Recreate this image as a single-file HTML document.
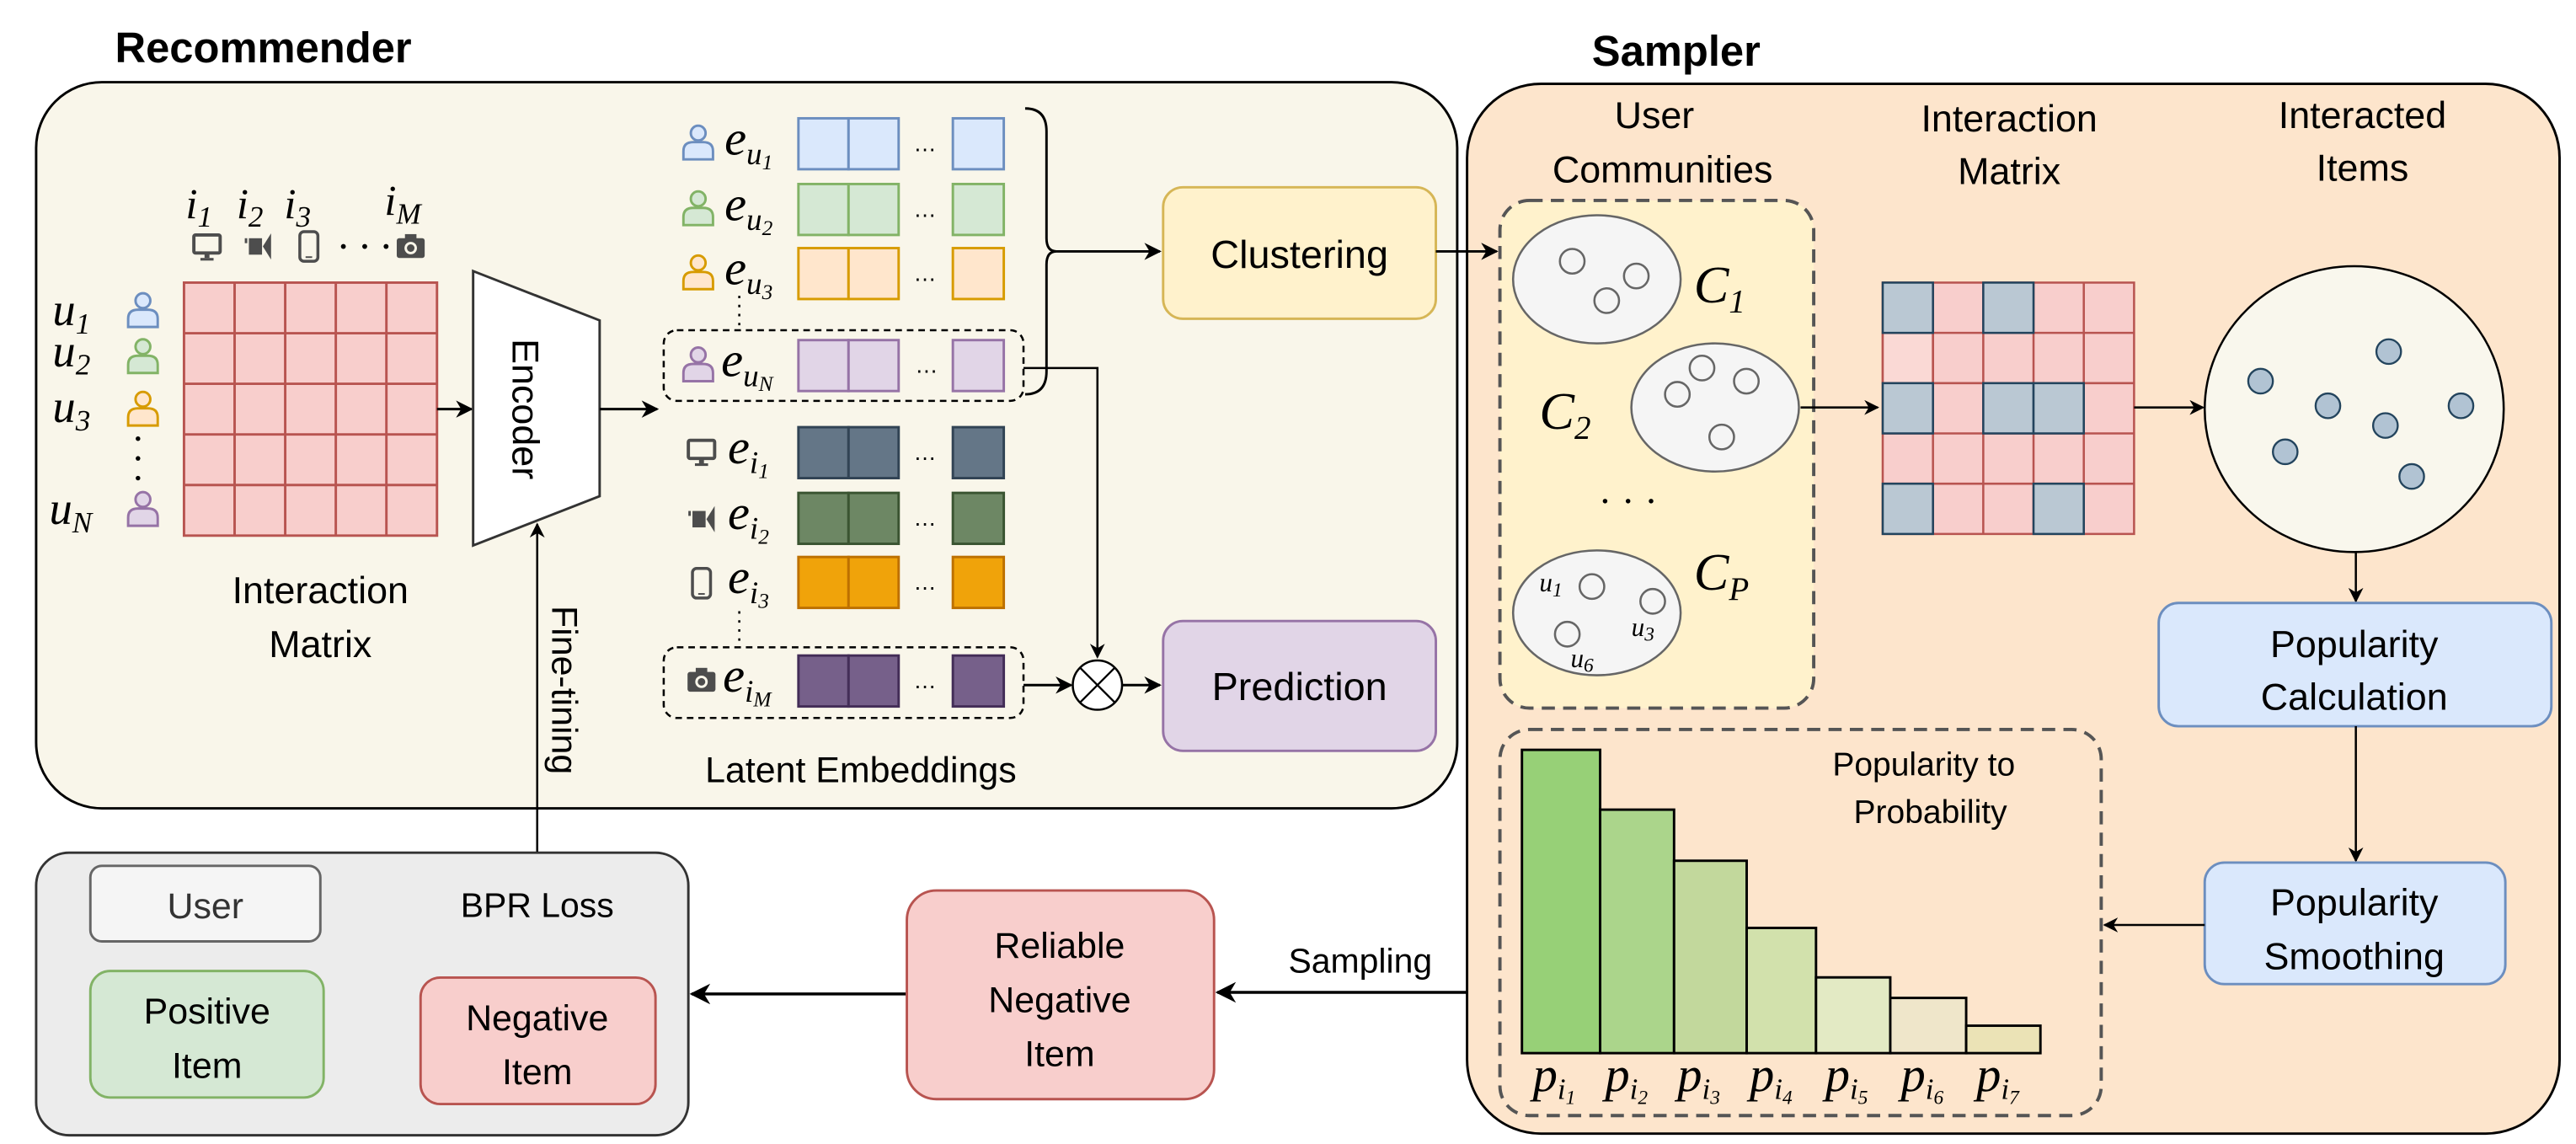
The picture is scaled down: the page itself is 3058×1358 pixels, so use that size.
<!DOCTYPE html>
<html><head><meta charset="utf-8"><style>
html,body{margin:0;padding:0;background:#fff;}
svg{display:block;}
text{font-family:"Liberation Sans",sans-serif;}
.m text, text.m{font-family:"Liberation Serif",serif;font-style:italic;}
</style></head><body>
<svg width="3058" height="1358" viewBox="0 0 1568 696.3" xmlns="http://www.w3.org/2000/svg">
<defs>
<marker id="ar" viewBox="0 0 10 10" refX="9" refY="5" markerWidth="7" markerHeight="7" orient="auto-start-reverse"><path d="M0,0 L10,5 L0,10 L3,5 z" fill="#000"/></marker>
<g id="person"><circle cx="0" cy="-6" r="4.5"/><path d="M-9,10 L-9,5 Q-9,-0.5 -3,-0.5 L3,-0.5 Q9,-0.5 9,5 L9,10 Z"/></g>
<g id="mon"><rect x="-8" y="-7" width="16" height="11" rx="1" fill="none" stroke="#4d4d4d" stroke-width="2"/><rect x="-1.5" y="4" width="3" height="3" fill="#4d4d4d"/><rect x="-4" y="7" width="8" height="1.6" fill="#4d4d4d"/></g>
<g id="vid"><rect x="-8" y="-5" width="1.5" height="3" fill="#4d4d4d"/><rect x="-5.5" y="-5" width="8" height="10" fill="#4d4d4d"/><path d="M8,-8 L8,8 L3,0 Z" fill="#4d4d4d"/></g>
<g id="phone"><rect x="-5.5" y="-9" width="11" height="18" rx="2.5" fill="none" stroke="#4d4d4d" stroke-width="1.8"/><rect x="-2" y="6" width="4" height="1" fill="#4d4d4d"/></g>
<g id="cam"><rect x="-8.5" y="-5" width="17" height="12" rx="1.5" fill="#4d4d4d"/><rect x="-3.5" y="-7.5" width="7" height="3" fill="#4d4d4d"/><circle cx="0" cy="1" r="3.8" fill="#f9f6ea"/><circle cx="0" cy="1" r="2.3" fill="#4d4d4d"/></g>
</defs>

<!-- Recommender -->
<text x="70" y="38" font-size="26" font-weight="bold">Recommender</text>
<rect x="22" y="50" width="865" height="442" rx="40" fill="#f9f6ea" stroke="#000" stroke-width="1.5"/>

<g class="m" font-size="26">
<text x="113" y="133">i<tspan font-size="18" dy="5">1</tspan></text>
<text x="144" y="133">i<tspan font-size="18" dy="5">2</tspan></text>
<text x="173" y="133">i<tspan font-size="18" dy="5">3</tspan></text>
<text x="234" y="131">i<tspan font-size="18" dy="5">M</tspan></text>
</g>
<use href="#mon" x="126" y="150"/><use href="#vid" x="157" y="150"/><use href="#phone" x="188" y="150"/>
<circle cx="209" cy="150" r="1.5"/><circle cx="222" cy="150" r="1.5"/><circle cx="235" cy="150" r="1.5"/>
<use href="#cam" x="250" y="150"/>

<g class="m" font-size="28">
<text x="32" y="198">u<tspan font-size="18" dy="5">1</tspan></text>
<text x="32" y="223">u<tspan font-size="18" dy="5">2</tspan></text>
<text x="32" y="257">u<tspan font-size="18" dy="5">3</tspan></text>
<text x="30" y="319">u<tspan font-size="18" dy="5">N</tspan></text>
</g>
<use href="#person" x="87" y="189" fill="#dae8fc" stroke="#6c8ebf" stroke-width="1.5"/>
<use href="#person" x="87" y="217" fill="#d5e8d4" stroke="#82b366" stroke-width="1.5"/>
<use href="#person" x="87" y="249" fill="#ffe6cc" stroke="#d79b00" stroke-width="1.5"/>
<use href="#person" x="87" y="310" fill="#e1d5e7" stroke="#9673a6" stroke-width="1.5"/>
<circle cx="84" cy="267" r="1.4"/><circle cx="84" cy="279" r="1.4"/><circle cx="84" cy="291" r="1.4"/>

<rect x="112" y="172" width="154" height="154" fill="#f8cecc" stroke="#b85450" stroke-width="1.5"/>
<g stroke="#b85450" stroke-width="1.5">
<line x1="142.8" y1="172" x2="142.8" y2="326"/><line x1="173.6" y1="172" x2="173.6" y2="326"/><line x1="204.4" y1="172" x2="204.4" y2="326"/><line x1="235.2" y1="172" x2="235.2" y2="326"/>
<line x1="112" y1="202.8" x2="266" y2="202.8"/><line x1="112" y1="233.6" x2="266" y2="233.6"/><line x1="112" y1="264.4" x2="266" y2="264.4"/><line x1="112" y1="295.2" x2="266" y2="295.2"/>
</g>
<text x="195" y="367" font-size="23" text-anchor="middle">Interaction</text>
<text x="195" y="400" font-size="23" text-anchor="middle">Matrix</text>
<line x1="266" y1="249" x2="287" y2="249" stroke="#000" stroke-width="1.5" marker-end="url(#ar)"/>

<path d="M288,165 L365,195 L365,302 L288,332 Z" fill="#fff" stroke="#333" stroke-width="1.5"/>
<text transform="translate(312,249) rotate(90)" font-size="23" text-anchor="middle">Encoder</text>
<line x1="365" y1="249" x2="400" y2="249" stroke="#000" stroke-width="1.5" marker-end="url(#ar)"/>

<!-- embeddings -->
<g stroke-width="1.5">
<g fill="#dae8fc" stroke="#6c8ebf"><rect x="486" y="72" width="30.5" height="31"/><rect x="516.5" y="72" width="30.5" height="31"/><rect x="580" y="72" width="31" height="31"/></g>
<g fill="#d5e8d4" stroke="#82b366"><rect x="486" y="112" width="30.5" height="31"/><rect x="516.5" y="112" width="30.5" height="31"/><rect x="580" y="112" width="31" height="31"/></g>
<g fill="#ffe6cc" stroke="#d79b00"><rect x="486" y="151" width="30.5" height="31"/><rect x="516.5" y="151" width="30.5" height="31"/><rect x="580" y="151" width="31" height="31"/></g>
<g fill="#e1d5e7" stroke="#9673a6"><rect x="486" y="207" width="30.5" height="31"/><rect x="516.5" y="207" width="30.5" height="31"/><rect x="580" y="207" width="31" height="31"/></g>
<g fill="#647687" stroke="#314354"><rect x="486" y="260" width="30.5" height="31"/><rect x="516.5" y="260" width="30.5" height="31"/><rect x="580" y="260" width="31" height="31"/></g>
<g fill="#6d8764" stroke="#3a5431"><rect x="486" y="300" width="30.5" height="31"/><rect x="516.5" y="300" width="30.5" height="31"/><rect x="580" y="300" width="31" height="31"/></g>
<g fill="#f0a30a" stroke="#bd7000"><rect x="486" y="339" width="30.5" height="31"/><rect x="516.5" y="339" width="30.5" height="31"/><rect x="580" y="339" width="31" height="31"/></g>
<g fill="#76608a" stroke="#432d57"><rect x="486" y="399" width="30.5" height="31"/><rect x="516.5" y="399" width="30.5" height="31"/><rect x="580" y="399" width="31" height="31"/></g>
</g>
<g font-size="14" text-anchor="middle"><text x="563" y="92">…</text><text x="563" y="132">…</text><text x="563" y="171">…</text><text x="564" y="227">…</text><text x="563" y="280">…</text><text x="563" y="320">…</text><text x="563" y="359">…</text><text x="563" y="419">…</text></g>
<use href="#person" x="425" y="87" fill="#dae8fc" stroke="#6c8ebf" stroke-width="1.5"/>
<use href="#person" x="425" y="127" fill="#d5e8d4" stroke="#82b366" stroke-width="1.5"/>
<use href="#person" x="425" y="166" fill="#ffe6cc" stroke="#d79b00" stroke-width="1.5"/>
<use href="#person" x="425" y="222" fill="#e1d5e7" stroke="#9673a6" stroke-width="1.5"/>
<use href="#mon" x="427" y="275"/><use href="#vid" x="427" y="316"/><use href="#phone" x="427" y="355"/><use href="#cam" x="427" y="414"/>
<g class="m" font-size="30">
<text x="441" y="94">e<tspan font-size="19" dy="6">u</tspan><tspan font-size="13" dy="3">1</tspan></text>
<text x="441" y="134">e<tspan font-size="19" dy="6">u</tspan><tspan font-size="13" dy="3">2</tspan></text>
<text x="441" y="173">e<tspan font-size="19" dy="6">u</tspan><tspan font-size="13" dy="3">3</tspan></text>
<text x="439" y="229">e<tspan font-size="19" dy="6">u</tspan><tspan font-size="13" dy="3">N</tspan></text>
<text x="443" y="282">e<tspan font-size="19" dy="6">i</tspan><tspan font-size="13" dy="3">1</tspan></text>
<text x="443" y="322">e<tspan font-size="19" dy="6">i</tspan><tspan font-size="13" dy="3">2</tspan></text>
<text x="443" y="361">e<tspan font-size="19" dy="6">i</tspan><tspan font-size="13" dy="3">3</tspan></text>
<text x="440" y="421">e<tspan font-size="19" dy="6">i</tspan><tspan font-size="13" dy="3">M</tspan></text>
</g>
<line x1="450" y1="180" x2="450" y2="200" stroke="#000" stroke-width="1.3" stroke-dasharray="1.5,4"/>
<line x1="450" y1="372" x2="450" y2="392" stroke="#000" stroke-width="1.3" stroke-dasharray="1.5,4"/>
<rect x="404" y="201" width="219" height="43" rx="8" fill="none" stroke="#000" stroke-width="1.3" stroke-dasharray="4,3"/>
<rect x="404" y="394" width="219" height="43" rx="8" fill="none" stroke="#000" stroke-width="1.3" stroke-dasharray="4,3"/>
<path d="M624,66 Q637,66 637,80 L637,145 Q637,153 643,153 Q637,153 637,161 L637,226 Q637,240 624,240" fill="none" stroke="#000" stroke-width="1.5"/>
<line x1="643" y1="153" x2="706" y2="153" stroke="#000" stroke-width="1.5" marker-end="url(#ar)"/>
<rect x="708" y="114" width="166" height="80" rx="12" fill="#fff2cc" stroke="#d6b656" stroke-width="1.5"/>
<text x="791" y="163" font-size="24" text-anchor="middle">Clustering</text>
<path d="M623,224 L668,224 L668,400" fill="none" stroke="#000" stroke-width="1.3" marker-end="url(#ar)"/>
<line x1="623" y1="417" x2="652" y2="417" stroke="#000" stroke-width="1.5" marker-end="url(#ar)"/>
<circle cx="668" cy="417" r="15" fill="#fff" stroke="#000" stroke-width="1.3"/>
<path d="M657.4,406.4 L678.6,427.6 M678.6,406.4 L657.4,427.6" stroke="#000" stroke-width="1.2"/>
<line x1="683" y1="417" x2="706" y2="417" stroke="#000" stroke-width="1.5" marker-end="url(#ar)"/>
<rect x="708" y="378" width="166" height="79" rx="12" fill="#e1d5e7" stroke="#9673a6" stroke-width="1.5"/>
<text x="791" y="426" font-size="24" text-anchor="middle">Prediction</text>
<text x="524" y="476" font-size="22" text-anchor="middle">Latent Embeddings</text>
<text transform="translate(336,420) rotate(90)" font-size="22" text-anchor="middle">Fine-tining</text>
<line x1="327" y1="519" x2="327" y2="319" stroke="#000" stroke-width="1.3" marker-end="url(#ar)"/>

<!-- bottom left -->
<rect x="22" y="519" width="397" height="172" rx="20" fill="#ececec" stroke="#333" stroke-width="1.5"/>
<rect x="55" y="527" width="140" height="46" rx="7" fill="#f5f5f5" stroke="#666" stroke-width="1.5"/>
<text x="125" y="559" font-size="22" text-anchor="middle" fill="#333">User</text>
<text x="327" y="558" font-size="21" text-anchor="middle">BPR Loss</text>
<rect x="55" y="591" width="142" height="77" rx="12" fill="#d5e8d4" stroke="#82b366" stroke-width="1.5"/>
<text x="126" y="623" font-size="22" text-anchor="middle">Positive</text>
<text x="126" y="656" font-size="22" text-anchor="middle">Item</text>
<rect x="256" y="595" width="143" height="77" rx="12" fill="#f8cecc" stroke="#b85450" stroke-width="1.5"/>
<text x="327" y="627" font-size="22" text-anchor="middle">Negative</text>
<text x="327" y="660" font-size="22" text-anchor="middle">Item</text>
<line x1="552" y1="605" x2="421" y2="605" stroke="#000" stroke-width="1.8" marker-end="url(#ar)"/>
<rect x="552" y="542" width="187" height="127" rx="18" fill="#f8cecc" stroke="#b85450" stroke-width="1.5"/>
<text x="645" y="583" font-size="22" text-anchor="middle">Reliable</text>
<text x="645" y="616" font-size="22" text-anchor="middle">Negative</text>
<text x="645" y="649" font-size="22" text-anchor="middle">Item</text>
<line x1="894" y1="604" x2="741" y2="604" stroke="#000" stroke-width="1.8" marker-end="url(#ar)"/>
<text x="828" y="592" font-size="21" text-anchor="middle">Sampling</text>

<!-- Sampler -->
<text x="969" y="40" font-size="26" font-weight="bold">Sampler</text>
<rect x="893" y="51" width="665" height="639" rx="45" fill="#fde5cc" stroke="#000" stroke-width="1.5"/>
<line x1="874" y1="153" x2="911" y2="153" stroke="#000" stroke-width="1.5" marker-end="url(#ar)"/>
<g font-size="23" text-anchor="middle">
<text x="1007" y="78">User</text><text x="1012" y="111">Communities</text>
<text x="1223" y="80">Interaction</text><text x="1223" y="112">Matrix</text>
<text x="1438" y="78">Interacted</text><text x="1438" y="110">Items</text>
</g>
<rect x="913" y="122" width="191" height="309" rx="18" fill="#fff2cc" stroke="#555" stroke-width="2" stroke-dasharray="8,5"/>
<g fill="#f5f5f5" stroke="#666" stroke-width="1.3">
<ellipse cx="972" cy="170" rx="51" ry="39"/><ellipse cx="1044" cy="248" rx="51" ry="39"/><ellipse cx="972" cy="373" rx="51" ry="38"/>
<circle cx="957" cy="159" r="7.5"/><circle cx="996" cy="168" r="7.5"/><circle cx="978" cy="183" r="7.5"/>
<circle cx="1036" cy="224" r="7.5"/><circle cx="1021" cy="240" r="7.5"/><circle cx="1063" cy="232" r="7.5"/><circle cx="1048" cy="266" r="7.5"/>
<circle cx="969" cy="357" r="7.5"/><circle cx="1006" cy="366" r="7.5"/><circle cx="954" cy="386" r="7.5"/>
</g>
<g class="m">
<text x="1031" y="184" font-size="32">C<tspan font-size="20" dy="6">1</tspan></text>
<text x="937" y="261" font-size="32">C<tspan font-size="20" dy="6">2</tspan></text>
<text x="1031" y="359" font-size="32">C<tspan font-size="20" dy="6">P</tspan></text>
<text x="937" y="360" font-size="16">u<tspan font-size="12" dy="3">1</tspan></text>
<text x="993" y="387" font-size="16">u<tspan font-size="12" dy="3">3</tspan></text>
<text x="956" y="406" font-size="16">u<tspan font-size="12" dy="3">6</tspan></text>
</g>
<circle cx="977" cy="305" r="1.4"/><circle cx="991" cy="305" r="1.4"/><circle cx="1005" cy="305" r="1.4"/>
<line x1="1096" y1="248" x2="1143" y2="248" stroke="#000" stroke-width="1.3" marker-end="url(#ar)"/>
<!-- sampler matrix -->
<g stroke="#b85450" stroke-width="1.3" fill="#f8cecc">
<rect x="1146" y="172" width="153" height="153"/>
<rect x="1146" y="202.6" width="30.6" height="30.6" fill="#fad9d5"/>
</g>
<g stroke="#b85450" stroke-width="1.3">
<line x1="1176.6" y1="172" x2="1176.6" y2="325"/><line x1="1207.2" y1="172" x2="1207.2" y2="325"/><line x1="1237.8" y1="172" x2="1237.8" y2="325"/><line x1="1268.4" y1="172" x2="1268.4" y2="325"/>
<line x1="1146" y1="202.6" x2="1299" y2="202.6"/><line x1="1146" y1="233.2" x2="1299" y2="233.2"/><line x1="1146" y1="263.8" x2="1299" y2="263.8"/><line x1="1146" y1="294.4" x2="1299" y2="294.4"/>
</g>
<g fill="#bac8d3" stroke="#23445d" stroke-width="1.3">
<rect x="1146" y="172" width="30.6" height="30.6"/><rect x="1207.2" y="172" width="30.6" height="30.6"/>
<rect x="1146" y="233.2" width="30.6" height="30.6"/><rect x="1207.2" y="233.2" width="30.6" height="30.6"/><rect x="1237.8" y="233.2" width="30.6" height="30.6"/>
<rect x="1146" y="294.4" width="30.6" height="30.6"/><rect x="1237.8" y="294.4" width="30.6" height="30.6"/>
</g>
<line x1="1299" y1="248" x2="1341" y2="248" stroke="#000" stroke-width="1.3" marker-end="url(#ar)"/>
<ellipse cx="1433" cy="249" rx="91" ry="87" fill="#f9f7ed" stroke="#000" stroke-width="1.3"/>
<g fill="#b1c3d3" stroke="#23445d" stroke-width="1.2">
<circle cx="1376" cy="232" r="7.5"/><circle cx="1454" cy="214" r="7.5"/><circle cx="1417" cy="247" r="7.5"/><circle cx="1452" cy="259" r="7.5"/><circle cx="1498" cy="247" r="7.5"/><circle cx="1391" cy="275" r="7.5"/><circle cx="1468" cy="290" r="7.5"/>
</g>
<line x1="1434" y1="336" x2="1434" y2="366" stroke="#000" stroke-width="1.3" marker-end="url(#ar)"/>
<rect x="1314" y="367" width="239" height="75" rx="12" fill="#dae8fc" stroke="#6c8ebf" stroke-width="1.5"/>
<text x="1433" y="400" font-size="23" text-anchor="middle">Popularity</text>
<text x="1433" y="432" font-size="23" text-anchor="middle">Calculation</text>
<line x1="1434" y1="442" x2="1434" y2="524" stroke="#000" stroke-width="1.3" marker-end="url(#ar)"/>
<rect x="1342" y="525" width="183" height="74" rx="12" fill="#dae8fc" stroke="#6c8ebf" stroke-width="1.5"/>
<text x="1433" y="557" font-size="23" text-anchor="middle">Popularity</text>
<text x="1433" y="590" font-size="23" text-anchor="middle">Smoothing</text>
<line x1="1342" y1="563" x2="1281" y2="563" stroke="#000" stroke-width="1.3" marker-end="url(#ar)"/>
<rect x="913" y="444" width="366" height="235" rx="18" fill="none" stroke="#555" stroke-width="2" stroke-dasharray="8,5"/>
<text x="1171" y="472" font-size="20" text-anchor="middle">Popularity to</text>
<text x="1175" y="501" font-size="20" text-anchor="middle">Probability</text>
<g stroke="#000" stroke-width="1.5">
<rect x="926.4" y="456.4" width="47.6" height="184.6" fill="#97d077"/>
<rect x="974" y="492.8" width="45" height="148.2" fill="#abd58b"/>
<rect x="1019" y="523.9" width="44.2" height="117.1" fill="#c2d89c"/>
<rect x="1063.2" y="564.8" width="42.2" height="76.2" fill="#d2e1ac"/>
<rect x="1105.4" y="594.9" width="45.2" height="46.1" fill="#e3eac4"/>
<rect x="1150.6" y="607.4" width="46.2" height="33.6" fill="#efe6ca"/>
<rect x="1196.8" y="624.3" width="45.2" height="16.7" fill="#ebe3b6"/>
</g>
<g class="m" font-size="30">
<text x="933" y="664">p<tspan font-size="18" dy="5">i</tspan><tspan font-size="12" dy="3">1</tspan></text>
<text x="977" y="664">p<tspan font-size="18" dy="5">i</tspan><tspan font-size="12" dy="3">2</tspan></text>
<text x="1021" y="664">p<tspan font-size="18" dy="5">i</tspan><tspan font-size="12" dy="3">3</tspan></text>
<text x="1065" y="664">p<tspan font-size="18" dy="5">i</tspan><tspan font-size="12" dy="3">4</tspan></text>
<text x="1111" y="664">p<tspan font-size="18" dy="5">i</tspan><tspan font-size="12" dy="3">5</tspan></text>
<text x="1157" y="664">p<tspan font-size="18" dy="5">i</tspan><tspan font-size="12" dy="3">6</tspan></text>
<text x="1203" y="664">p<tspan font-size="18" dy="5">i</tspan><tspan font-size="12" dy="3">7</tspan></text>
</g>
</svg>
</body></html>
